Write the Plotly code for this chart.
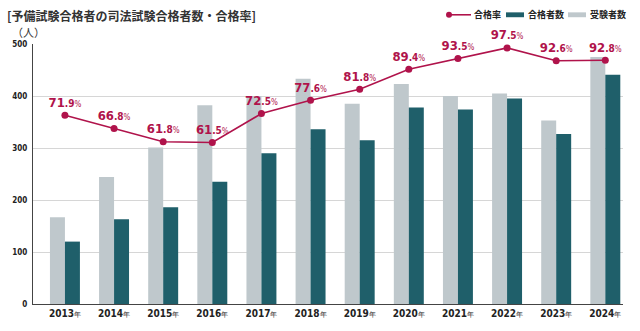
import plotly.graph_objects as go

years = ["2013", "2014", "2015", "2016", "2017", "2018", "2019", "2020", "2021", "2022", "2023", "2024"]
examinees = [167, 244, 301, 382, 400, 433, 385, 423, 400, 405, 353, 475]   # 受験者数
passers = [120, 163, 186, 235, 290, 336, 315, 378, 374, 395, 327, 441]     # 合格者数
rates = [71.9, 66.8, 61.8, 61.5, 72.5, 77.6, 81.8, 89.4, 93.5, 97.5, 92.6, 92.8]  # 合格率
y_ticks = [0, 100, 200, 300, 400, 500]

GRAY = "#bfc8cc"
TEAL = "#1f5f6a"
RED = "#b0134b"
NUM_FONT = "Liberation Sans Narrow, DejaVu Sans Condensed, Roboto, sans-serif"
JP_FONT = "Noto Sans CJK JP, sans-serif"

W, H = 640, 331
L, R, T, B = 33, 17, 44, 20
PW, PH = W - L - R, H - T - B


def px_x(p):
    return (p - L) / PW


def px_y(p):
    return (H - B - p) / PH


def rate_text(r):
    s = f"{r:.1f}"
    i, d = s.split(".")
    return (f"<b>{i}</b><span style='font-size:10px'><b>.{d}</b></span>"
            f"<span style='font-size:8px'>%</span>")


fig = go.Figure()
fig.add_trace(go.Bar(x=years, y=examinees, name="受験者数", marker=dict(color=GRAY, line=dict(width=0)),
                     showlegend=False))
fig.add_trace(go.Bar(x=years, y=passers, name="合格者数", marker=dict(color=TEAL, line=dict(width=0)),
                     showlegend=False))
fig.add_trace(go.Scatter(x=years, y=rates, name="合格率", yaxis="y2", mode="lines+markers+text",
                         line=dict(color=RED, width=1.6), marker=dict(color=RED, size=7),
                         text=[rate_text(r) for r in rates], textposition="top center",
                         textfont=dict(family=NUM_FONT, size=13, color=RED),
                         cliponaxis=False, showlegend=False))

fig.update_layout(
    width=W, height=H, margin=dict(l=L, r=R, t=T, b=B),
    paper_bgcolor="white", plot_bgcolor="white",
    barmode="group", bargap=0.39, bargroupgap=0,
    xaxis=dict(type="category", range=[-0.65, 11.36], showgrid=False,
               tickvals=years,
               ticktext=[f"<b>{y}</b><span style='font-size:7px'>年</span>" for y in years],
               tickfont=dict(family=NUM_FONT, size=10, color="#222"),
               ticks="", showline=True, linecolor="#444", linewidth=1.2, zeroline=False),
    yaxis=dict(range=[0, 500], tickvals=y_ticks, ticktext=[f"<b>{v}</b>" for v in y_ticks],
               tickfont=dict(family=NUM_FONT, size=8, color="#222"),
               showgrid=True, gridcolor="#d6d6d6", gridwidth=1,
               showline=True, linecolor="#444", linewidth=1.2, zeroline=False, ticks="",
               ticklabelstandoff=3),
    yaxis2=dict(range=[0, 99], overlaying="y", side="right", visible=False, showgrid=False),
)

annotations = [
    dict(text="<b>[予備試験合格者の司法試験合格者数・合格率]</b>", x=px_x(5), y=px_y(15),
         xanchor="left", yanchor="middle", font=dict(family=JP_FONT, size=12, color="#333")),
    dict(text="（人）", x=px_x(10), y=px_y(32), xanchor="left", yanchor="middle",
         font=dict(family=JP_FONT, size=11, color="#333")),
    dict(text="<b>合格率</b>", x=px_x(472), y=px_y(14), xanchor="left", yanchor="middle",
         font=dict(family=JP_FONT, size=9, color="#222")),
    dict(text="<b>合格者数</b>", x=px_x(526), y=px_y(14), xanchor="left", yanchor="middle",
         font=dict(family=JP_FONT, size=9, color="#222")),
    dict(text="<b>受験者数</b>", x=px_x(588), y=px_y(14), xanchor="left", yanchor="middle",
         font=dict(family=JP_FONT, size=9, color="#222")),
]
for a in annotations:
    a.update(xref="paper", yref="paper", showarrow=False)
fig.update_layout(annotations=annotations)

shapes = [
    dict(type="line", x0=px_x(449), x1=px_x(471), y0=px_y(14), y1=px_y(14),
         line=dict(color=RED, width=1.6)),
    dict(type="circle", x0=px_x(446), x1=px_x(452), y0=px_y(11), y1=px_y(17),
         fillcolor=RED, line=dict(width=0)),
    dict(type="rect", x0=px_x(506), x1=px_x(524), y0=px_y(11.5), y1=px_y(16.5),
         fillcolor=TEAL, line=dict(width=0)),
    dict(type="rect", x0=px_x(568), x1=px_x(586), y0=px_y(11.5), y1=px_y(16.5),
         fillcolor=GRAY, line=dict(width=0)),
]
for s in shapes:
    s.update(xref="paper", yref="paper")
fig.update_layout(shapes=shapes)

fig.write_html("out.html")
